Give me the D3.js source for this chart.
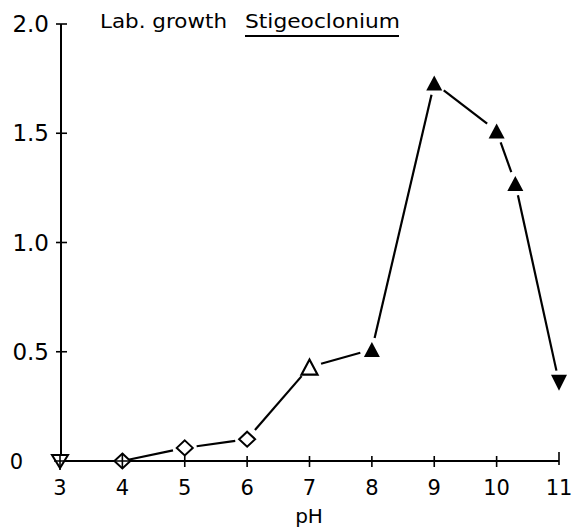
<!DOCTYPE html>
<html lang="en">
<head>
<meta charset="utf-8">
<script src="https://d3js.org/d3.v7.min.js"></script>
<style>
  body { margin: 0; background: #fff; }
  svg text { font-family: "DejaVu Sans", Verdana, sans-serif; fill: #000; }
</style>
</head>
<body>
<svg id="chart" width="587" height="532"></svg>
<script>
// data
var phValues = [3, 4, 5, 6, 7, 8, 9, 10, 10.3, 11];
var growth = [0, 0, 0.06, 0.10, 0.43, 0.51, 1.73, 1.51, 1.27, 0.36];
var markers = ["downcross", "diamondcross", "diamond", "diamond", "triOpen", "tri", "tri", "tri", "tri", "triDown"];
var xTicks = [3, 4, 5, 6, 7, 8, 9, 10, 11];
var yTicks = [0, 0.5, 1.0, 1.5, 2.0];
var yTickLabels = ["0", "0.5", "1.0", "1.5", "2.0"];

var svg = d3.select("#chart");

var x = d3.scaleLinear().domain([3, 11]).range([60, 559]);
var y = d3.scaleLinear().domain([0, 2]).range([461, 24]);

// axes lines
svg.append("line")
  .attr("x1", x(3)).attr("x2", x(11))
  .attr("y1", y(0)).attr("y2", y(0))
  .attr("stroke", "#000").attr("stroke-width", 2);
svg.append("line")
  .attr("x1", 61).attr("x2", 61)
  .attr("y1", y(2)).attr("y2", y(0))
  .attr("stroke", "#000").attr("stroke-width", 2);

// x ticks
svg.selectAll(".xt").data(xTicks).enter().append("line")
  .attr("x1", function(d) { return x(d); })
  .attr("x2", function(d) { return x(d); })
  .attr("y1", function(d) { return d == 11 ? y(0) - 9 : y(0) - 5; })
  .attr("y2", function(d) { return d == 11 ? y(0) + 4 : y(0) + 6; })
  .attr("stroke", "#000").attr("stroke-width", 1.6);
svg.selectAll(".xl").data(xTicks).enter().append("text")
  .attr("x", function(d) { return x(d); })
  .attr("y", 495)
  .attr("text-anchor", "middle")
  .attr("font-size", 21)
  .text(function(d) { return d; });

// y ticks
svg.selectAll(".yt").data(yTicks.slice(1)).enter().append("line")
  .attr("x1", 56).attr("x2", 67)
  .attr("y1", function(d) { return y(d); })
  .attr("y2", function(d) { return y(d); })
  .attr("stroke", "#000").attr("stroke-width", 1.6);
svg.selectAll(".yl").data(yTicks).enter().append("text")
  .attr("x", function(d) { return d == 0 ? 23 : 49; })
  .attr("y", function(d) { return y(d) + 8; })
  .attr("text-anchor", "end")
  .attr("font-size", function(d) { return d == 0 ? 21 : 23; })
  .text(function(d, i) { return yTickLabels[i]; });

// axis title
svg.append("text")
  .attr("x", 309).attr("y", 523)
  .attr("text-anchor", "middle")
  .attr("font-size", 20)
  .text("pH");

// chart title
svg.append("text")
  .attr("x", 100).attr("y", 28)
  .attr("font-size", 19)
  .attr("textLength", 127).attr("lengthAdjust", "spacingAndGlyphs")
  .text("Lab. growth");
svg.append("text")
  .attr("x", 245).attr("y", 28)
  .attr("font-size", 19)
  .attr("textLength", 155).attr("lengthAdjust", "spacingAndGlyphs")
  .text("Stigeoclonium");
svg.append("line")
  .attr("x1", 245).attr("x2", 399)
  .attr("y1", 36).attr("y2", 36)
  .attr("stroke", "#000").attr("stroke-width", 2);

// connecting segments with gaps around markers
var pts = phValues.map(function(d, i) { return [x(d), y(growth[i])]; });
for (var i = 0; i < pts.length - 1; i++) {
  var a = pts[i], b = pts[i + 1];
  var dx = b[0] - a[0], dy = b[1] - a[1];
  var len = Math.sqrt(dx * dx + dy * dy);
  var g1 = i == 1 ? 6 : 12, g2 = 12;
  if (len < g1 + g2) continue;
  svg.append("line")
    .attr("x1", a[0] + dx / len * g1).attr("y1", a[1] + dy / len * g1)
    .attr("x2", b[0] - dx / len * g2).attr("y2", b[1] - dy / len * g2)
    .attr("stroke", "#000").attr("stroke-width", 2.2);
}

// markers
var s = 8;
function triPath(cx, cy, down) {
  var h = 7.5;
  if (down) return "M" + (cx - s) + "," + (cy - h) + "L" + (cx + s) + "," + (cy - h) + "L" + cx + "," + (cy + h + 1) + "Z";
  return "M" + (cx - s) + "," + (cy + h) + "L" + (cx + s) + "," + (cy + h) + "L" + cx + "," + (cy - h) + "Z";
}
function diaPath(cx, cy) {
  return "M" + cx + "," + (cy - 7.5) + "L" + (cx + s) + "," + cy + "L" + cx + "," + (cy + 7.5) + "L" + (cx - s) + "," + cy + "Z";
}
pts.forEach(function(p, i) {
  var m = markers[i], cx = p[0], cy = p[1];
  if (m == "tri") {
    svg.append("path").attr("d", triPath(cx, cy, false)).attr("fill", "#000");
  } else if (m == "triDown") {
    svg.append("path").attr("d", triPath(cx, cy, true)).attr("fill", "#000");
  } else if (m == "triOpen") {
    svg.append("path").attr("d", triPath(cx, cy, false))
      .attr("fill", "#fff").attr("stroke", "#000").attr("stroke-width", 2.2);
  } else if (m == "diamond" || m == "diamondcross") {
    svg.append("path").attr("d", diaPath(cx, cy))
      .attr("fill", "#fff").attr("stroke", "#000").attr("stroke-width", 2);
    if (m == "diamondcross") {
      svg.append("path").attr("d", "M" + cx + "," + (cy - 7.5) + "V" + (cy + 7.5) + "M" + (cx - s) + "," + cy + "H" + (cx + s))
        .attr("stroke", "#000").attr("stroke-width", 1.6);
    }
  } else if (m == "downcross") {
    svg.append("path").attr("d", "M" + (cx - s) + "," + (cy - 6) + "L" + (cx + s) + "," + (cy - 6) + "L" + cx + "," + (cy + 7) + "Z")
      .attr("fill", "#fff").attr("stroke", "#000").attr("stroke-width", 2);
    svg.append("path").attr("d", "M" + cx + "," + (cy - 6) + "V" + (cy + 9) + "M" + (cx - 6) + "," + cy + "H" + (cx + 6))
      .attr("stroke", "#000").attr("stroke-width", 1.6);
  }
});
</script>
</body>
</html>
